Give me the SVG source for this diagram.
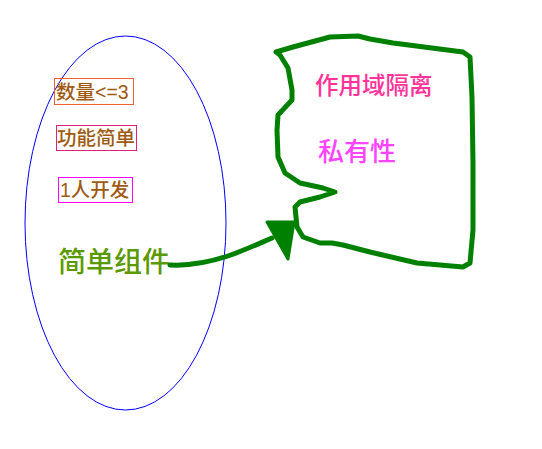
<svg xmlns="http://www.w3.org/2000/svg" width="542" height="449" viewBox="0 0 542 449">
<style>
text{font-family:"Liberation Sans","Noto Sans CJK SC",sans-serif;font-weight:500}
.lbl{font-size:19.5px;fill:#a05a10}
.box{fill:none;stroke-width:1}
.g{fill:none;stroke:#008000;stroke-width:5;stroke-linecap:round;stroke-linejoin:round}
</style>
<rect width="542" height="449" fill="#fff"/>
<g id="ellipse"><ellipse cx="125.5" cy="223" rx="100.5" ry="187" fill="none" stroke="#0000ff" stroke-width="1"/></g>
<g id="n1"><rect class="box" x="54.5" y="78.5" width="79" height="26" stroke="#f06030"/><text class="lbl" x="56" y="99">数量&lt;=3</text></g>
<g id="n2"><rect class="box" x="56.5" y="125.5" width="80" height="25" stroke="#e0207f"/><text class="lbl" x="57" y="145">功能简单</text></g>
<g id="n3"><rect class="box" x="58.5" y="177.5" width="74" height="25" stroke="#ff00ff"/><text class="lbl" x="60" y="197">1人开发</text></g>
<g id="n4"><text x="58" y="272" font-size="28" fill="#5a9a00">简单组件</text></g>
<g id="scope">
<path class="g" d="M276,52 L293,47 L330,37 L358,36 L370,39 L393,43 L463,52 L470,57 L472,97 L473,163 L473,230 L470,263 L463,267 L417,263 L370,252 L343,245 L332,243 L320,243 L303,237 L297,227 L295,207 L300,202 L320,197 L335,192 L323,188 L300,183 L285,173 L278,157 L277,130 L278,115 L292,100 L292,90 L288,68 L280,55 Z"/>
<text x="315" y="94" font-size="23.5" fill="#ff3399">作用域隔离</text>
<text x="318" y="161" font-size="26" fill="#ff44ff">私有性</text>
</g>
<g id="connectors">
<path class="g" d="M170,265 C190,266 210,262 228,256 C245,250 258,244 272,238"/>
<path d="M267,222 L294,222 L288,259 Z" fill="#008000" stroke="#008000" stroke-width="3" stroke-linejoin="round"/>
</g>
</svg>
